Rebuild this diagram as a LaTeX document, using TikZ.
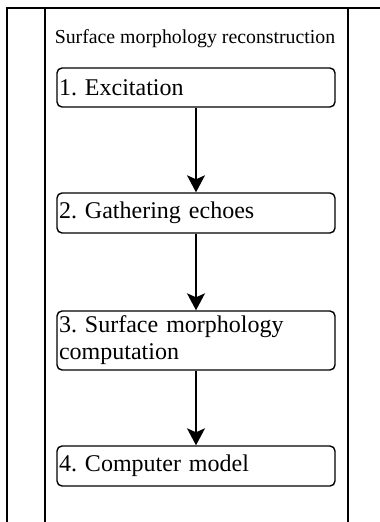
\documentclass[tikz,border=0pt]{standalone}
\usepackage{fontspec}
\setmainfont{Liberation Serif}
\usetikzlibrary{arrows.meta}
\begin{document}
\frenchspacing
\begin{tikzpicture}[x=1pt,y=-1pt,
  frame/.style={line width=1.5pt},
  stepbox/.style={draw, line width=1.4pt, rounded corners=5pt, minimum width=278pt,
    text width=274pt, inner xsep=2pt, inner ysep=0pt, align=left,
    font=\fontsize{24}{27}\selectfont},
  flow/.style={line width=1.3pt, -{Stealth[length=17pt,width=18pt,inset=4pt]}}]
\useasboundingbox (0,0) rectangle (380,522);
\fill[white] (0,0) rectangle (380,522);
% swimlane frame
\coordinate (tl) at (7,8);
\coordinate (tr) at (380,8);
\coordinate (bl) at (7,522);
\coordinate (l1t) at (45,8);
\coordinate (l1b) at (45,522);
\coordinate (l2t) at (348,8);
\coordinate (l2b) at (348,522);
\draw[frame] (bl) -- (tl) -- (tr);
\draw[frame] (l1t) -- (l1b);
\draw[frame] (l2t) -- (l2b);
\node[anchor=base, font=\fontsize{19.8}{22}\selectfont] (title) at (195,43) {Surface morphology reconstruction};
% steps
\node[stepbox, minimum height=39pt] (s1) at (196,87.5) {1. Excitation};
\node[stepbox, minimum height=40pt] (s2) at (196,213) {2. Gathering echoes};
\node[stepbox, minimum height=59pt] (s3) at (196,340.5) {3. Surface morphology\\computation};
\node[stepbox, minimum height=40pt] (s4) at (196,466) {4. Computer model};
\draw[flow] (s1.south) -- (s2.north);
\draw[flow] (s2.south) -- (s3.north);
\draw[flow] (s3.south) -- (s4.north);
\end{tikzpicture}
\end{document}
